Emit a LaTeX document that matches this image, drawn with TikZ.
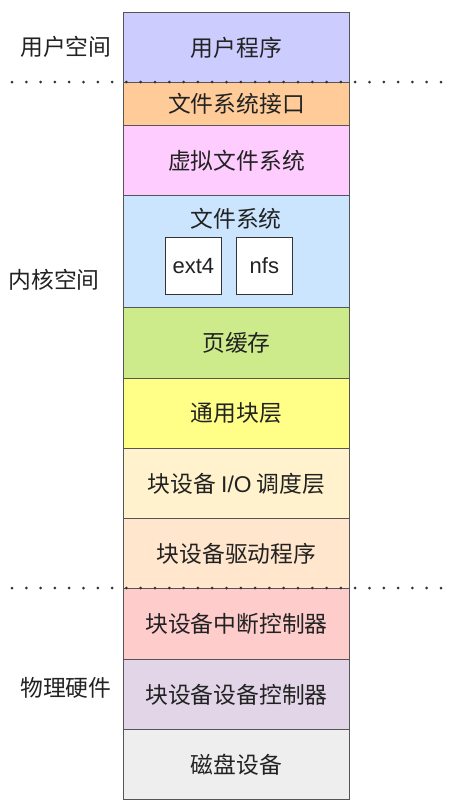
\documentclass[tikz,border=0pt]{standalone}
\usepackage{fontspec}
\setmainfont{Noto Sans CJK SC}
\newfontfamily\latinfont{Liberation Sans}
\usepackage{tikz}
\usepackage{color}

\definecolor{cUser}{HTML}{CCCCFF}
\definecolor{cApi}{HTML}{FFCC99}
\definecolor{cVfs}{HTML}{FFCCFF}
\definecolor{cFs}{HTML}{CCE5FF}
\definecolor{cCache}{HTML}{CDEB8B}
\definecolor{cBlock}{HTML}{FFFF88}
\definecolor{cSched}{HTML}{FFF2CC}
\definecolor{cDrv}{HTML}{FFE6CC}
\definecolor{cIrq}{HTML}{FFCCCC}
\definecolor{cCtl}{HTML}{E1D5E7}
\definecolor{cDisk}{HTML}{EEEEEE}
\definecolor{cLine}{HTML}{555555}
\definecolor{cText}{HTML}{222222}

\tikzset{
    layer/.style = {draw=cLine, line width=0.8pt, minimum width=226pt,
        inner sep=0pt, anchor=north west, text=cText, font=\fontsize{22.8pt}{26pt}\selectfont},
    fsbox/.style = {draw=black!80, fill=white, line width=0.8pt, minimum width=56pt,
        minimum height=57pt, inner sep=0pt, anchor=north west, text=cText,
        font=\latinfont\fontsize{22pt}{26pt}\selectfont},
    side/.style = {text=cText, font=\fontsize{22.8pt}{26pt}\selectfont},
    sep/.style = {line width=3pt, dash pattern=on 0pt off 14.3pt, line cap=round, black!80}
}

\begin{document}
\begin{tikzpicture}[x=1pt, y=-1pt]
    \useasboundingbox (0,0) rectangle (475,812);
    % stack of layers
    \node[layer, fill=cUser,  minimum height=70pt] (user)  at (123,12)  {用户程序};
    \node[layer, fill=cApi,   minimum height=43pt] (api)   at (123,82)  {文件系统接口};
    \node[layer, fill=cVfs,   minimum height=70pt] (vfs)   at (123,125) {虚拟文件系统};
    \node[layer, fill=cFs,    minimum height=112pt] (fs)   at (123,195) {};
    \node[layer, fill=cCache, minimum height=71pt] (cache) at (123,307) {页缓存};
    \node[layer, fill=cBlock, minimum height=70pt] (block) at (123,378) {通用块层};
    \node[layer, fill=cSched, minimum height=70pt] (sched) at (123,448) {块设备 {\latinfont I/O} 调度层};
    \node[layer, fill=cDrv,   minimum height=70pt] (drv)   at (123,518) {块设备驱动程序};
    \node[layer, fill=cIrq,   minimum height=71pt] (irq)   at (123,588) {块设备中断控制器};
    \node[layer, fill=cCtl,   minimum height=70pt] (ctl)   at (123,659) {块设备设备控制器};
    \node[layer, fill=cDisk,  minimum height=70pt] (disk)  at (123,729) {磁盘设备};
    % file system box content
    \node[side] (fstitle) at (236,219) {文件系统};
    \node[fsbox] (ext) at (165,237) {ext4};
    \node[fsbox] (nfs) at (236,237) {nfs};
    % space labels
    \node[side] (uspace) at (66,47)  {用户空间};
    \node[side] (kspace) at (54,280) {内核空间};
    \node[side] (hspace) at (66,688) {物理硬件};
    % boundaries
    \coordinate (L1) at (12,82);  \coordinate (R1) at (453,82);
    \coordinate (L2) at (12,588); \coordinate (R2) at (453,588);
    \draw[sep] (L1) -- (R1);
    \draw[sep] (L2) -- (R2);
\end{tikzpicture}
\end{document}
